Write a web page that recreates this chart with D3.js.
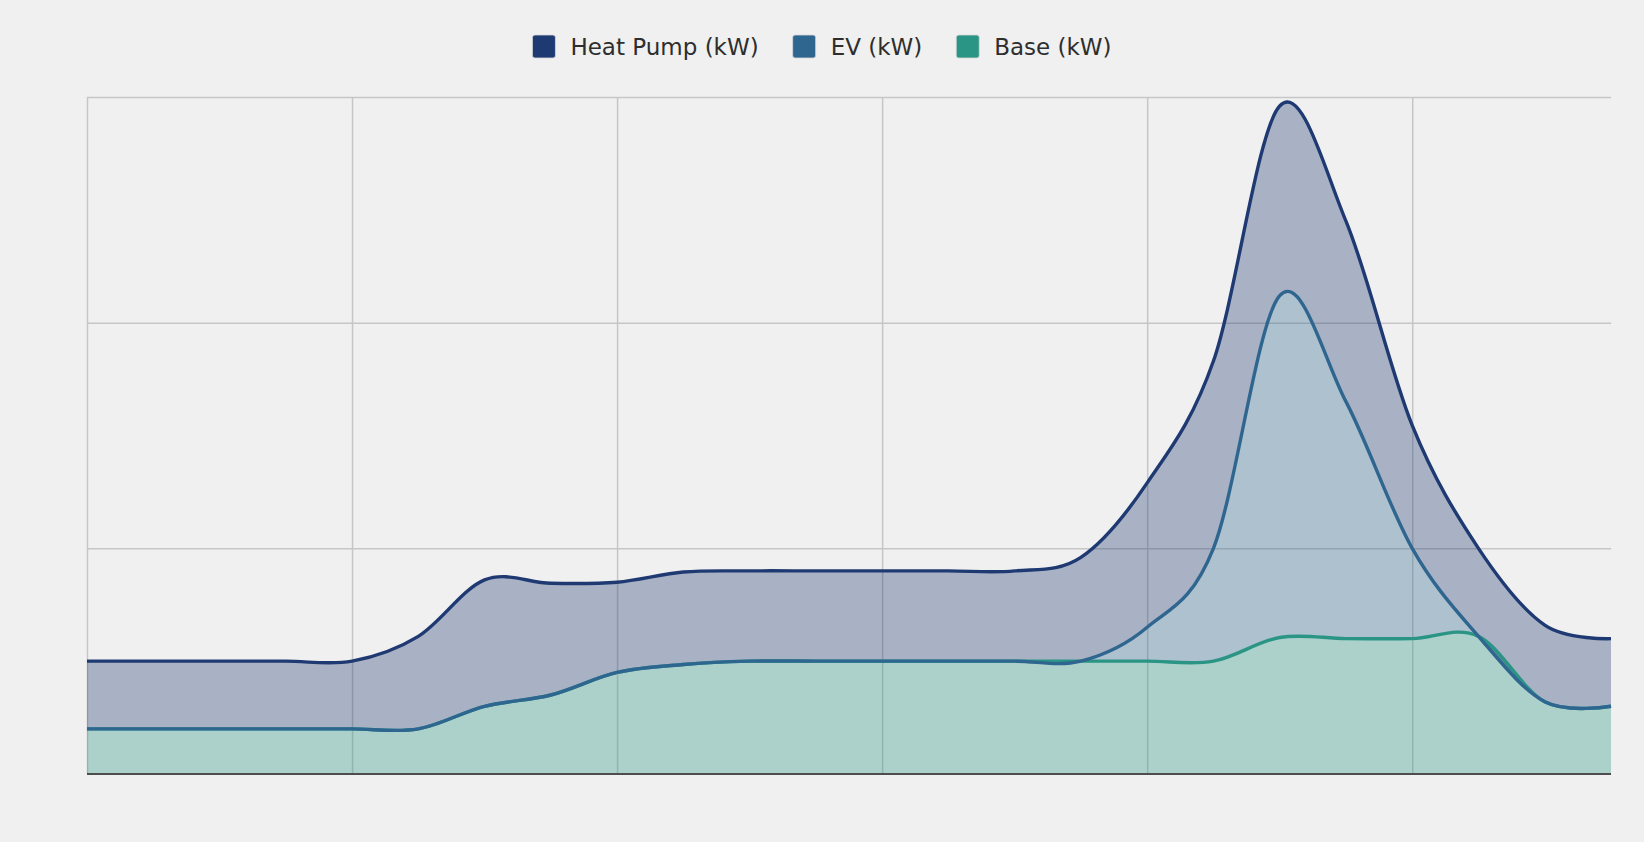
<!DOCTYPE html>
<html>
<head>
<meta charset="utf-8">
<script src="https://cdn.jsdelivr.net/npm/d3@7"></script>
<style>
  html, body { margin: 0; padding: 0; background: #f0f0f0; }
  svg { display: block; }
  .grid line { stroke: #c6c6c6; stroke-width: 1.5; }
  .legend text { font-family: "DejaVu Sans", Verdana, sans-serif; font-size: 23px; fill: #2e2e2e; }
</style>
</head>
<body>
<div id="chart"></div>
<script>
// hora del día (0..23)
const hours = [0, 1, 2, 3, 4, 5, 6, 7, 8, 9, 10, 11, 12, 13, 14, 15, 16, 17, 18, 19, 20, 21, 22, 23];
const hourTicks = [0, 4, 8, 12, 16, 20];
const kwTicks = [0, 2, 4, 6];

// cargas en kW
const baseLoad = [0.4, 0.4, 0.4, 0.4, 0.4, 0.4, 0.6, 0.7, 0.9, 0.97, 1.0, 1.0, 1.0, 1.0, 1.0, 1.0, 1.0, 1.0, 1.21, 1.2, 1.2, 1.22, 0.64, 0.6];
const evLoad = [0, 0, 0, 0, 0, 0, 0, 0, 0, 0, 0, 0, 0, 0, 0, 0, 0.3, 1.0, 3.03, 2.1, 0.8, 0, 0, 0];
const heatPumpLoad = [0.6, 0.6, 0.6, 0.6, 0.6, 0.82, 1.12, 0.99, 0.8, 0.82, 0.8, 0.8, 0.8, 0.8, 0.8, 0.92, 1.28, 1.66, 1.68, 1.6, 1.09, 0.78, 0.68, 0.6];

const seriesNames = ["Heat Pump (kW)", "EV (kW)", "Base (kW)"];
const seriesKeys = ["base", "ev", "hp"]; // orden de apilado, de abajo hacia arriba
const colors = { hp: "#1f3a72", ev: "#2f6690", base: "#2a9585" };
const legendKeys = ["hp", "ev", "base"];

const W = 1644, H = 842;
const margin = { top: 97, right: 33, bottom: 68, left: 87 };
const width = W - margin.left - margin.right,
      height = H - margin.top - margin.bottom;

const data = hours.map((h, i) => ({ hour: h, base: baseLoad[i], ev: evLoad[i], hp: heatPumpLoad[i] }));

const svg = d3.select("#chart")
    .append("svg")
    .attr("width", W)
    .attr("height", H);

const g = svg.append("g")
    .attr("transform", `translate(${margin.left},${margin.top})`);

const x = d3.scaleLinear().domain([0, 23]).range([0, width]);
const y = d3.scaleLinear().domain([0, 6]).range([height, 0]);

// rejilla
g.append("g")
    .attr("class", "grid")
    .attr("transform", `translate(0,${height})`)
    .call(d3.axisBottom(x).tickValues(hourTicks).tickSize(-height).tickFormat(""))
    .call(a => a.select(".domain").remove());

g.append("g")
    .attr("class", "grid")
    .call(d3.axisLeft(y).tickValues(kwTicks.filter(d => d > 0)).tickSize(-width).tickFormat(""))
    .call(a => a.select(".domain").remove());

const stacked = d3.stack().keys(seriesKeys)(data);

const area = d3.area()
    .x(d => x(d.data.hour))
    .y0(d => y(d[0]))
    .y1(d => y(d[1]))
    .curve(d3.curveCardinal);

const line = d3.line()
    .x(d => x(d.data.hour))
    .y(d => y(d[1]))
    .curve(d3.curveCardinal);

g.selectAll(".area")
    .data(stacked)
    .join("path")
    .attr("class", "area")
    .attr("d", area)
    .attr("fill", d => colors[d.key])
    .attr("fill-opacity", 0.34);

g.selectAll(".line")
    .data(stacked)
    .join("path")
    .attr("class", "line")
    .attr("d", line)
    .attr("fill", "none")
    .attr("stroke", d => colors[d.key])
    .attr("stroke-width", 3.4);

// eje inferior
g.append("line")
    .attr("x1", 0).attr("x2", width)
    .attr("y1", height).attr("y2", height)
    .attr("stroke", "#4d4d4d")
    .attr("stroke-width", 2);

// leyenda centrada
const legend = svg.append("g").attr("class", "legend");
const items = legend.selectAll("g")
    .data(legendKeys)
    .join("g");

items.append("rect")
    .attr("width", 23).attr("height", 23)
    .attr("y", 35)
    .attr("rx", 2.5)
    .attr("fill", d => colors[d])
    .attr("stroke", "#d8d8d8")
    .attr("stroke-width", 0.8);

items.append("text")
    .attr("x", 38)
    .attr("y", 55)
    .text((d, i) => seriesNames[i]);

let offset = 0;
items.each(function () {
    const item = d3.select(this);
    item.attr("transform", `translate(${offset},0)`);
    offset += 38 + item.select("text").node().getComputedTextLength() + 34;
});
offset -= 34;
legend.attr("transform", `translate(${(W - offset) / 2},0)`);
</script>
</body>
</html>
